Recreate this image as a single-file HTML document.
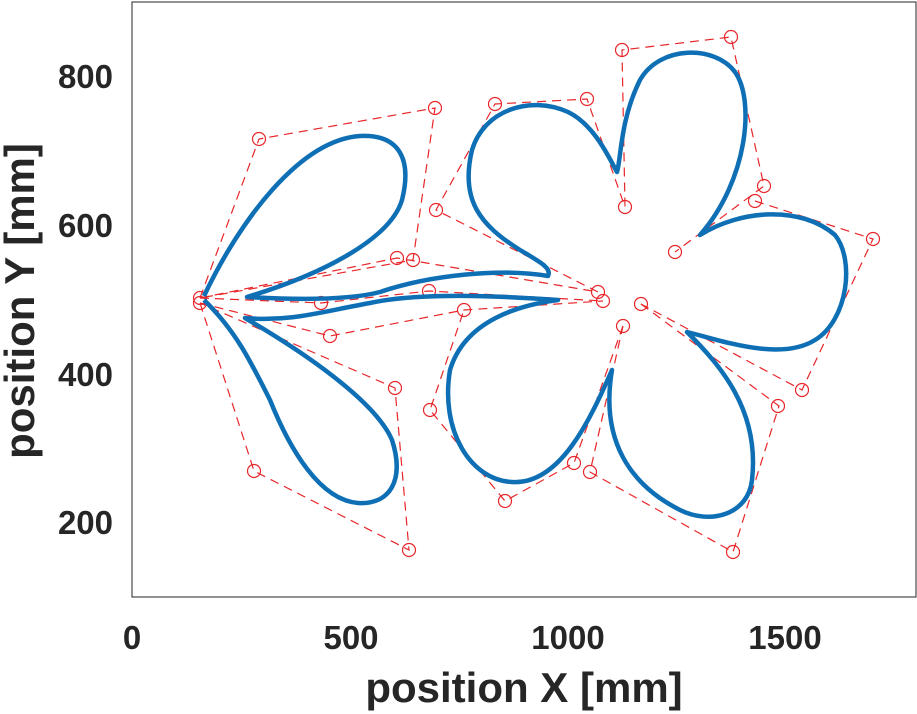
<!DOCTYPE html>
<html><head><meta charset="utf-8"><style>
body{margin:0;background:#fff}
svg{display:block}
text{font-family:"Liberation Sans",Arial,sans-serif;font-weight:bold;fill:#262626}
</style></head><body>
<svg width="917" height="714" viewBox="0 0 917 714">
<rect x="132" y="2" width="784" height="595" fill="#fff" stroke="#262626" stroke-width="1"/>
<g font-size="33" text-anchor="middle">
<text x="132" y="649">0</text><text x="351" y="649">500</text><text x="568" y="649">1000</text><text x="785" y="649">1500</text>
</g>
<g font-size="33" text-anchor="end">
<text x="113" y="88">800</text><text x="113" y="237">600</text><text x="113" y="386">400</text><text x="113" y="534">200</text>
</g>
<text x="524" y="702" font-size="42" text-anchor="middle">position X [mm]</text>
<text transform="translate(34,301) rotate(-90)" font-size="42" text-anchor="middle">position Y [mm]</text>
<g stroke="#e8262a" stroke-width="1.2" fill="none" stroke-dasharray="9,6">
<polyline points="200,298 259,139 435,108 413,260 200,298"/>
<polyline points="200,298 397,258 598,292"/>
<polyline points="200,298 321,303 429,291 603,301"/>
<polyline points="200,303 330,336 464,310 603,301"/>
<polyline points="200,303 254,471 409,550 395,388 200,303"/>
<polyline points="598,292 436,210 495,104 587,99 625,207 622,50 731,37 764,186 675,252"/>
<polyline points="755,201 873,239 802,390 641,304"/>
<polyline points="641,304 779,406 733,552 590,472 623,326"/>
<polyline points="623,326 574,463 505,501 430,410 464,310"/>
</g>
<g stroke="#e8262a" stroke-width="1.2" fill="none">
<circle cx="200" cy="298" r="6.5"/><circle cx="200" cy="303" r="6.5"/><circle cx="259" cy="139" r="6.5"/><circle cx="435" cy="108" r="6.5"/>
<circle cx="397" cy="258" r="6.5"/><circle cx="413" cy="260" r="6.5"/><circle cx="321" cy="303" r="6.5"/><circle cx="330" cy="336" r="6.5"/>
<circle cx="395" cy="388" r="6.5"/><circle cx="254" cy="471" r="6.5"/><circle cx="409" cy="550" r="6.5"/><circle cx="429" cy="291" r="6.5"/>
<circle cx="464" cy="310" r="6.5"/><circle cx="430" cy="410" r="6.5"/><circle cx="505" cy="501" r="6.5"/><circle cx="574" cy="463" r="6.5"/>
<circle cx="590" cy="472" r="6.5"/><circle cx="598" cy="292" r="6.5"/><circle cx="603" cy="301" r="6.5"/><circle cx="623" cy="326" r="6.5"/>
<circle cx="641" cy="304" r="6.5"/><circle cx="436" cy="210" r="6.5"/><circle cx="495" cy="104" r="6.5"/><circle cx="587" cy="99" r="6.5"/>
<circle cx="622" cy="50" r="6.5"/><circle cx="731" cy="37" r="6.5"/><circle cx="764" cy="186" r="6.5"/><circle cx="755" cy="201" r="6.5"/>
<circle cx="625" cy="207" r="6.5"/><circle cx="675" cy="252" r="6.5"/><circle cx="873" cy="239" r="6.5"/><circle cx="802" cy="390" r="6.5"/>
<circle cx="778" cy="406" r="6.5"/><circle cx="733" cy="552" r="6.5"/>
</g>
<g stroke="#0f6fb5" stroke-width="4.5" fill="none" stroke-linejoin="round">
<path d="M204,296 C240,220 300,140 360,136 C400,134 412,160 402,200 C390,240 320,275 247,297 C300,300 350,300 380,292 C430,275 500,268 548,276 C552,268 540,262 520,250 C480,225 460,200 472,150 C484,110 530,95 568,112 C595,125 610,160 617,172 C621,160 620,120 640,80 C660,45 715,45 735,72 C755,100 748,180 700,235 C740,210 800,205 835,235 C855,260 848,320 815,340 C780,362 720,340 687,332 C720,365 760,410 752,480 C748,515 710,525 680,510 C630,485 600,440 612,370 C590,420 560,485 512,482 C470,480 440,430 450,370 C465,320 520,305 558,300 C500,296 420,292 370,303 C320,312 290,322 245,318 C300,350 375,400 392,440 C405,480 390,505 358,503 C320,500 290,450 270,400 C250,360 235,330 204,300"/>
</g>
</svg>
</body></html>
